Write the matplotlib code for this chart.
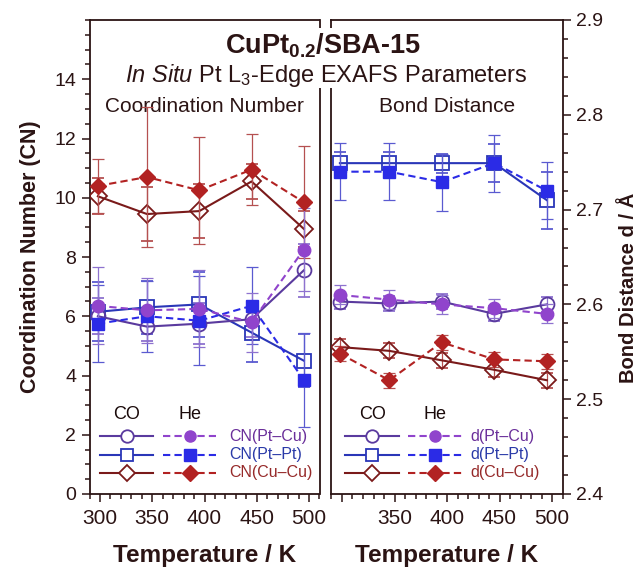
import matplotlib
matplotlib.use('Agg')
import matplotlib.pyplot as plt
from matplotlib.patches import Rectangle
from matplotlib.ticker import MultipleLocator, FixedLocator

plt.rcParams['font.family'] = ['Liberation Sans', 'DejaVu Sans']
plt.rcParams['mathtext.fontset'] = 'custom'
plt.rcParams['mathtext.rm'] = 'Liberation Sans'
plt.rcParams['mathtext.it'] = 'Liberation Sans:italic'
plt.rcParams['mathtext.bf'] = 'Liberation Sans:bold'

# temperatures of the measurements
temps = [298, 345, 395, 445, 495]

# coordination numbers (CO = open, He = filled)
cn_ptcu_co = [6.0, 5.65, 5.75, 5.9, 7.55]
cn_ptcu_co_err = [0.6, 0.5, 0.7, 0.6, 0.9]
cn_ptcu_he = [6.35, 6.2, 6.25, 5.8, 8.25]
cn_ptcu_he_err = [1.3, 1.1, 1.3, 1.0, 1.4]
cn_ptpt_co = [6.15, 6.3, 6.4, 5.45, 4.5]
cn_ptpt_co_err = [1.0, 0.9, 1.1, 1.0, 0.9]
cn_ptpt_he = [5.75, 6.0, 5.85, 6.35, 3.85]
cn_ptpt_he_err = [1.3, 1.2, 1.5, 1.3, 1.6]
cn_cucu_co = [10.05, 9.45, 9.55, 10.55, 8.95]
cn_cucu_co_err = [0.6, 0.9, 0.9, 0.6, 0.6]
cn_cucu_he = [10.4, 10.7, 10.25, 10.95, 9.85]
cn_cucu_he_err = [0.9, 2.35, 1.8, 1.2, 1.9]

# bond distances in Angstrom
d_ptcu_co = [2.603, 2.601, 2.603, 2.590, 2.600]
d_ptcu_co_err = [0.008, 0.008, 0.008, 0.008, 0.008]
d_ptcu_he = [2.610, 2.605, 2.600, 2.596, 2.590]
d_ptcu_he_err = [0.01, 0.01, 0.01, 0.01, 0.01]
d_ptpt_co = [2.749, 2.749, 2.749, 2.749, 2.710]
d_ptpt_co_err = [0.012, 0.012, 0.01, 0.02, 0.03]
d_ptpt_he = [2.740, 2.740, 2.729, 2.749, 2.720]
d_ptpt_he_err = [0.03, 0.03, 0.03, 0.03, 0.03]
d_cucu_co = [2.555, 2.551, 2.541, 2.531, 2.520]
d_cucu_co_err = [0.008, 0.008, 0.008, 0.008, 0.008]
d_cucu_he = [2.548, 2.520, 2.560, 2.542, 2.540]
d_cucu_he_err = [0.008, 0.008, 0.008, 0.008, 0.008]

# colours
dark = '#2b1414'
c_ptcu_co, c_ptcu_he, c_ptcu_err = '#5a3a9e', '#9044cc', '#8e72cf'
c_ptpt_co, c_ptpt_he, c_ptpt_err = '#2a36b8', '#2b2be6', '#5a5ad0'
c_cucu_co, c_cucu_he, c_cucu_err = '#7a1a1a', '#b22222', '#b55050'

W, H = 641, 569
fig = plt.figure(figsize=(W / 100, H / 100), dpi=100)
ax1 = fig.add_axes([89.5 / W, 75 / H, 230 / W, 474 / H])
ax2 = fig.add_axes([331.5 / W, 75 / H, 231 / W, 474 / H])


def series(ax, y, err, col, ecol, marker, open_marker):
    if open_marker:
        ax.errorbar(temps, y, yerr=err, color=col, ecolor=ecol, elinewidth=0.9,
                    capsize=4.5, capthick=0.9, lw=1.5, ls='-', marker=marker,
                    ms=10 if marker != 'D' else 9, mfc='none', mec=col, mew=1.3, zorder=3)
    else:
        ax.errorbar(temps, y, yerr=err, color=col, ecolor=ecol, elinewidth=0.9,
                    capsize=4.5, capthick=0.9, lw=1.5, ls=(0, (3.5, 2)), marker=marker,
                    ms=9 if marker != 'D' else 8, mfc=col, mec=col, zorder=4)


series(ax1, cn_cucu_co, cn_cucu_co_err, c_cucu_co, c_cucu_err, 'D', True)
series(ax1, cn_cucu_he, cn_cucu_he_err, c_cucu_he, c_cucu_err, 'D', False)
series(ax1, cn_ptpt_co, cn_ptpt_co_err, c_ptpt_co, c_ptpt_err, 's', True)
series(ax1, cn_ptpt_he, cn_ptpt_he_err, c_ptpt_he, c_ptpt_err, 's', False)
series(ax1, cn_ptcu_co, cn_ptcu_co_err, c_ptcu_co, c_ptcu_err, 'o', True)
series(ax1, cn_ptcu_he, cn_ptcu_he_err, c_ptcu_he, c_ptcu_err, 'o', False)

series(ax2, d_cucu_co, d_cucu_co_err, c_cucu_co, c_cucu_err, 'D', True)
series(ax2, d_cucu_he, d_cucu_he_err, c_cucu_he, c_cucu_err, 'D', False)
series(ax2, d_ptpt_co, d_ptpt_co_err, c_ptpt_co, c_ptpt_err, 's', True)
series(ax2, d_ptpt_he, d_ptpt_he_err, c_ptpt_he, c_ptpt_err, 's', False)
series(ax2, d_ptcu_co, d_ptcu_co_err, c_ptcu_co, c_ptcu_err, 'o', True)
series(ax2, d_ptcu_he, d_ptcu_he_err, c_ptcu_he, c_ptcu_err, 'o', False)

for ax in (ax1, ax2):
    ax.set_xlim(290, 510)
    ax.xaxis.set_major_locator(MultipleLocator(50))
    ax.xaxis.set_minor_locator(MultipleLocator(10))
    for s in ax.spines.values():
        s.set_color(dark)
        s.set_linewidth(1.3)
    ax.tick_params(which='both', direction='out', color=dark, labelcolor=dark,
                   labelsize=14, width=1.1)
    ax.tick_params(axis='x', labelsize=15, pad=5)
    ax.tick_params(which='major', length=6)
    ax.tick_params(which='minor', length=3.5)
    ax.set_xlabel('Temperature / K', fontsize=17.5, fontweight='bold', color=dark, labelpad=11)

ax1.set_ylim(0, 16)
ax1.yaxis.set_major_locator(FixedLocator([0, 2, 4, 6, 8, 10, 12, 14]))
ax1.yaxis.set_minor_locator(MultipleLocator(0.5))
ax1.tick_params(axis='y', which='both', left=True, right=False)
ax1.set_ylabel('Coordination Number (CN)', fontsize=15.5, fontweight='bold', color=dark, labelpad=10)

ax2.set_ylim(2.4, 2.9)
ax2.yaxis.set_major_locator(MultipleLocator(0.1))
ax2.yaxis.set_minor_locator(MultipleLocator(0.02))
ax2.yaxis.tick_right()
ax2.yaxis.set_label_position('right')
ax2.tick_params(axis='y', which='both', left=False, right=True)
ax2.set_xticks([300, 350, 400, 450, 500], ['', '350', '400', '450', '500'])
ax2.set_ylabel('Bond Distance d / Å', fontsize=14.5, fontweight='bold', color=dark)
ax2.yaxis.set_label_coords(1.245, 0.435)

ax1.text(0.5, 0.806, 'Coordination Number', transform=ax1.transAxes, ha='center',
         va='baseline', fontsize=15, color=dark)
ax2.text(0.5, 0.806, 'Bond Distance', transform=ax2.transAxes, ha='center',
         va='baseline', fontsize=15, color=dark)

# hand-drawn legends
legend_rows = [
    ('Pt\u2013Cu', 'o', c_ptcu_co, c_ptcu_he, '#6a2f9a'),
    ('Pt\u2013Pt', 's', c_ptpt_co, c_ptpt_he, '#2a3aa8'),
    ('Cu\u2013Cu', 'D', c_cucu_co, c_cucu_he, '#962a2a'),
]
row_y = [0.122, 0.083, 0.045]
for ax, prefix, xs in ((ax1, 'CN', (0.046, 0.277, 0.162, 0.318, 0.55, 0.437, 0.608)),
                       (ax2, 'd', (0.058, 0.293, 0.177, 0.332, 0.564, 0.448, 0.600))):
    co0, co1, com, he0, he1, hem, tx = xs
    ax.text(com, 0.168, 'CO', transform=ax.transAxes, ha='center', va='center',
            fontsize=13, color='#1a0a0a')
    ax.text(hem, 0.168, 'He', transform=ax.transAxes, ha='center', va='center',
            fontsize=13, color='#1a0a0a')
    for (name, mk, cco, che, ctxt), yy in zip(legend_rows, row_y):
        ax.plot([co0, co1], [yy, yy], color=cco, lw=1.5, transform=ax.transAxes, clip_on=False)
        ax.plot([com], [yy], marker=mk, ms=9 if mk != 'D' else 8.5, mfc='white', mec=cco, mew=1.3,
                transform=ax.transAxes, clip_on=False)
        ax.plot([he0, he1], [yy, yy], color=che, lw=1.5, ls=(0, (3.5, 2)),
                transform=ax.transAxes, clip_on=False)
        ax.plot([hem], [yy], marker=mk, ms=8 if mk != 'D' else 8, mfc=che, mec=che,
                transform=ax.transAxes, clip_on=False)
        ax.text(tx, yy, prefix + '(' + name + ')', transform=ax.transAxes, ha='left',
                va='center', fontsize=11.5, color=ctxt)

# white block behind the title where the panels meet
fig.add_artist(Rectangle((310 / W, 1 - 88 / H), 30 / W, 60 / H, transform=fig.transFigure,
                         facecolor='white', edgecolor='none', zorder=2))
fig.text(323 / W, 1 - 54 / H, r'CuPt$_{\mathbf{0.2}}$/SBA-15', ha='center', va='baseline',
         fontsize=19.5, fontweight='bold', color=dark, zorder=3)
fig.text(326 / W, 1 - 82 / H, r'$\mathit{In\ Situ}$ Pt L$_3$-Edge EXAFS Parameters',
         ha='center', va='baseline', fontsize=17, color=dark, zorder=3)

fig.savefig('out.png', dpi=100)
